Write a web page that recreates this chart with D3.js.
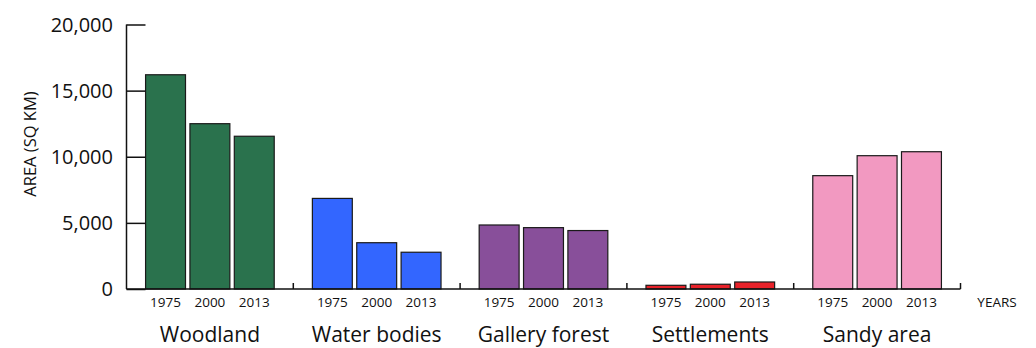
<!DOCTYPE html>
<html><head><meta charset="utf-8">
<script src="https://cdn.jsdelivr.net/npm/d3@7/dist/d3.min.js"></script>
<style>body{margin:0;background:#fff;} text{font-family:"Open Sans",sans-serif;fill:#111;}</style>
</head><body>
<svg id="c" width="1036" height="348"></svg>
<script>
const categories = ["Woodland","Water bodies","Gallery forest","Settlements","Sandy area"];
const years = ["1975","2000","2013"];
const woodland = [16200, 12500, 11550];
const waterBodies = [6850, 3500, 2780];
const galleryForest = [4840, 4640, 4420];
const settlements = [280, 360, 530];
const sandyArea = [8570, 10080, 10380];
const seriesValues = [woodland, waterBodies, galleryForest, settlements, sandyArea];
const colors = ["#2a724d","#3366ff","#884f9a","#e8222a","#f299c1"];
const yTicks = [0, 5000, 10000, 15000, 20000];

const svg = d3.select("#c");
const x0 = d3.scaleBand().domain(categories).range([126.5, 960.5]).padding(0);
const x1 = d3.scaleBand().domain(years).range([0, x0.bandwidth()]).paddingInner(0.1).paddingOuter(0.43);
const y = d3.scaleLinear().domain([0, 20000]).range([289, 24.5]);

// bars
categories.forEach((c, i) => {
  const g = svg.append("g").attr("transform", `translate(${x0(c)},0)`);
  g.selectAll("rect").data(years.map((yr, j) => ({yr, v: seriesValues[i][j]})))
    .enter().append("rect")
    .attr("x", d => x1(d.yr)).attr("width", x1.bandwidth())
    .attr("y", d => y(d.v)).attr("height", d => y(0) - y(d.v))
    .attr("fill", colors[i]).attr("stroke", "#1a1a1a").attr("stroke-width", 1.2);
  g.selectAll("text.yr").data(years).enter().append("text").attr("class","yr")
    .attr("x", d => x1(d) + x1.bandwidth()/2).attr("y", 307)
    .attr("text-anchor","middle").attr("font-size", 13.5).text(d => d);
  g.append("text").attr("x", x0.bandwidth()/2).attr("y", 342)
    .attr("text-anchor","middle").attr("font-size", 21).text(c);
});

// y axis
const yAxis = d3.axisRight(y).tickValues(yTicks).tickSize(19).tickFormat("");
const ya = svg.append("g").attr("transform","translate(126.5,0)").call(yAxis);
ya.select(".domain").remove();
ya.selectAll(".tick line").attr("stroke","#111").attr("stroke-width",1.5);
svg.append("line").attr("x1",126.5).attr("x2",126.5).attr("y1",y(20000)).attr("y2",y(0)).attr("stroke","#111").attr("stroke-width",1.5);
svg.selectAll("text.yt").data(yTicks).enter().append("text").attr("class","yt")
  .attr("x", 113).attr("y", d => y(d)).attr("dy","0.35em").attr("text-anchor","end")
  .attr("font-size", 20).text(d => d3.format(",")(d));

// x axis
svg.append("line").attr("x1",126.5).attr("x2",960.5).attr("y1",y(0)).attr("y2",y(0)).attr("stroke","#111").attr("stroke-width",1.5);
const bounds = categories.map(c => x0(c) + x0.bandwidth());
svg.selectAll("line.xt").data(bounds).enter().append("line").attr("class","xt")
  .attr("x1", d => d).attr("x2", d => d).attr("y1", y(0)).attr("y2", y(0) - 6)
  .attr("stroke","#111").attr("stroke-width",1.5);

svg.append("text").attr("x", 997).attr("y", 307).attr("text-anchor","middle").attr("font-size",13.5).text("YEARS");
svg.append("text").attr("transform","translate(36,144) rotate(-90)").attr("text-anchor","middle").attr("font-size",16.5).text("AREA (SQ KM)");
</script>
</body></html>
